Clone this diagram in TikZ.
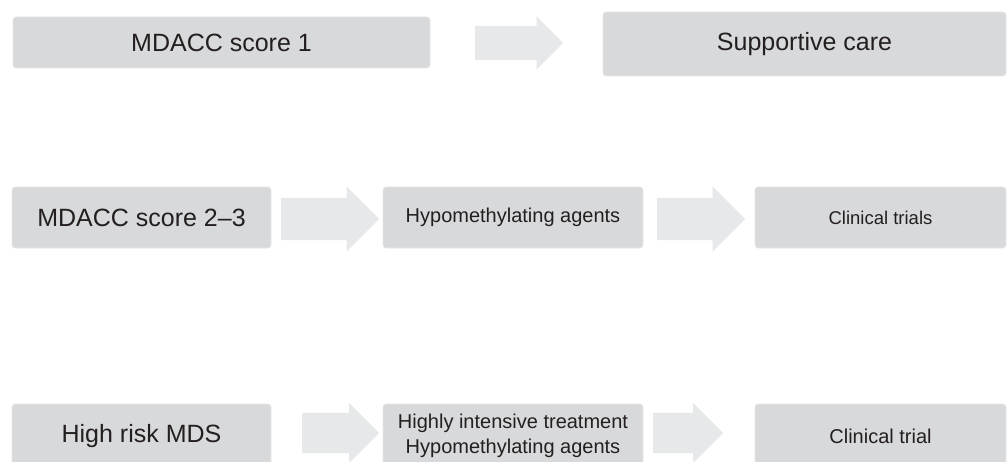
\documentclass[tikz,border=0pt]{standalone}
\usepackage{fontspec}
\setmainfont{Liberation Sans}
\usetikzlibrary{shapes.arrows}

\definecolor{boxgray}{RGB}{216,217,219}
\definecolor{arrowgray}{RGB}{231,232,233}
\definecolor{inkgray}{RGB}{35,31,32}

\begin{document}
\begin{tikzpicture}[x=1pt,y=-1pt,
    stepbox/.style={fill=boxgray, draw=boxgray!60!white, line width=0.6pt, rounded corners=3pt,
        text=inkgray, align=center, inner sep=0pt},
    bigtext/.style={font=\fontsize{25}{30}\selectfont},
    smalltext/.style={font=\fontsize{20}{24.5}\selectfont},
    flowarrow/.style={single arrow, fill=arrowgray, draw=none, inner xsep=0pt, anchor=tail,
        text height=0pt, text depth=0pt, single arrow head extend=#1}]
        \useasboundingbox (0,0) rectangle (1008,462);
        \clip (0,0) rectangle (1008,462);
        \fill[white] (0,0) rectangle (1008,462);

        % Low risk: MDACC score 1
        \node[stepbox, bigtext, minimum width=417pt, minimum height=51pt] (score1) at (221.5,42.5) {MDACC score 1};
        \node[stepbox, bigtext, minimum width=403pt, minimum height=64pt] (care) at (804.5,44) {Supportive care};
        \node[flowarrow=9.5pt, inner ysep=17pt, minimum height=88pt] (arrA) at (475,43) {};

        % Intermediate: MDACC score 2-3
        \node[stepbox, bigtext, minimum width=259pt, minimum height=61pt] (score23) at (141.5,217.5) {MDACC score 2--3};
        \node[stepbox, smalltext, minimum width=260pt, minimum height=61pt] (hma) at (513,217.5) {Hypomethylating agents};
        \node[stepbox, font=\fontsize{18.5}{22}\selectfont, minimum width=251pt, minimum height=61pt] (trials) at (880.5,217.5) {Clinical trials};
        \node[flowarrow=11.5pt, inner ysep=21pt, minimum height=98pt] (arrB) at (281,219) {};
        \node[flowarrow=11.5pt, inner ysep=21pt, minimum height=88pt] (arrC) at (657,219) {};

        % High risk
        \node[stepbox, bigtext, minimum width=259pt, minimum height=64pt] (highrisk) at (141.5,436) {High risk MDS};
        \node[stepbox, smalltext, minimum width=260pt, minimum height=64pt] (intensive) at (513,436) {Highly intensive treatment\\Hypomethylating agents};
        \node[stepbox, smalltext, minimum width=251pt, minimum height=64pt] (trial) at (880.5,436) {Clinical trial};
        \node[flowarrow=10pt, inner ysep=20pt, minimum height=77pt] (arrD) at (302,433) {};
        \node[flowarrow=10pt, inner ysep=20pt, minimum height=70pt] (arrE) at (653,433) {};
    \end{tikzpicture}
\end{document}
